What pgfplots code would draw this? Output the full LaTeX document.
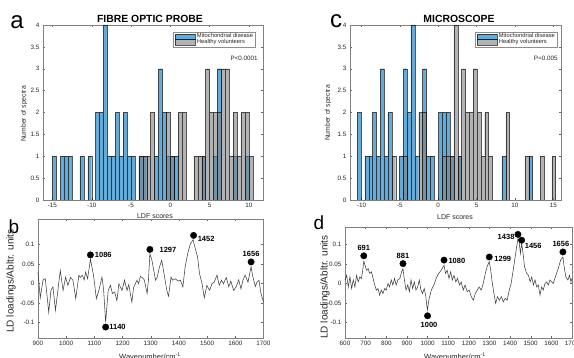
\documentclass[border=0pt]{standalone}
\usepackage{fontspec}
\setmainfont{Liberation Sans}
\usepackage{pgfplots}
\pgfplotsset{compat=1.18}
\definecolor{mblue}{rgb}{0,0.447,0.741}
\definecolor{mgray}{rgb}{0.5,0.5,0.5}
\definecolor{tk}{rgb}{0.15,0.15,0.15}
\newcommand{\tf}{\fontsize{6.3}{7}\selectfont}
\newcommand{\lgf}{\fontsize{5.8}{6.5}\selectfont}
\newcommand{\pf}{\fontsize{6.3}{7}\selectfont}
\newcommand{\lf}{\fontsize{7.5}{8}\selectfont\bfseries}
\pgfplotsset{
  base/.style={scale only axis, anchor=south west,
    axis line style={black!50, line width=0.4pt},
    tick style={black!60, line width=0.35pt}, major tick length=2.2pt,
    tick label style={font=\tf, text=tk},
    scaled x ticks=false, scaled y ticks=false},
  hist/.style={base, height=175pt, ymin=0, ymax=4,
    ytick={0,0.5,1,1.5,2,2.5,3,3.5,4}, yticklabels={0,0.5,1,1.5,2,2.5,3,3.5,4},
    legend cell align=left,
    legend style={draw=black!45, line width=0.3pt, fill=white, font=\lgf, text=tk,
      inner xsep=1.2pt, inner ysep=0.8pt, row sep=-1.2pt, column sep=1.2pt,
      nodes={inner sep=0.7pt}}},
  histbar/.style={ybar, bar width=0.5, bar shift=0pt, draw=black, draw opacity=0.65,
    line width=0.3pt, fill opacity=0.6,
    legend image code/.code={\draw[##1] (0pt,-2.8pt) rectangle (20pt,2.8pt);}},
  spec/.style={base, clip=false,
    ytick={-0.1,-0.05,0,0.05,0.1}, yticklabels={-0.1,-0.05,0,0.05,0.1}},
}
\begin{document}
\begin{tikzpicture}
\useasboundingbox (0,0) rectangle (574pt,358pt);
% ---------------- panel a
\begin{axis}[hist, at={(43pt,158pt)}, width=220pt, xmin=-16.2, xmax=11.8,
  xtick={-15,-10,-5,0,5,10}, xticklabels={-15,-10,-5,0,5,10},
  legend style={at={(0.964,0.96)}, anchor=north east}]
\addplot[histbar, fill=mblue] coordinates {
(-14.75,1) (-13.75,1) (-13.25,1) (-12.75,1) (-11.25,1) (-10.25,1) (-9.25,2) (-8.75,2)
(-8.25,4) (-7.75,1) (-7.25,1) (-6.75,2) (-6.25,1) (-5.75,2) (-5.25,1) (-4.75,1)
(-3.75,1) (-3.25,1) (-1.75,1) (-1.25,3) (-0.75,2) (-0.25,1) (0.25,1) (0.75,1)
(4.25,1) (5.75,1) (6.25,3) (8.25,1) (9.75,1)};
\addlegendentry{Mitochondrial disease}
\addplot[histbar, fill=mgray] coordinates {
(-3.75,1) (-3.25,1) (-2.75,1) (-2.25,2) (-0.25,2) (0.25,1) (1.25,2) (1.75,2)
(3.25,1) (3.75,1) (4.25,1) (4.75,3) (5.25,2) (5.75,2) (6.25,2) (6.75,3) (7.25,3)
(7.75,1) (8.25,2) (8.75,1) (9.25,2) (9.75,2) (10.25,1)};
\addlegendentry{Healthy volunteers}
\node[font=\pf, anchor=east, inner sep=0pt, text=tk] at (rel axis cs:0.977,0.81) {P<0.0001};
\end{axis}
% ---------------- panel c
\begin{axis}[hist, at={(350pt,158pt)}, width=211pt, xmin=-11.5, xmax=16,
  xtick={-10,-5,0,5,10,15}, xticklabels={-10,-5,0,5,10,15},
  legend style={at={(0.981,0.96)}, anchor=north east}]
\addplot[histbar, fill=mblue] coordinates {
(-10.3,2) (-9.3,1) (-8.8,1) (-8.3,2) (-7.8,1) (-7.3,3) (-6.8,1) (-6.3,2) (-4.8,1)
(-4.3,3) (-3.8,2) (-3.3,4) (-2.8,1) (-1.8,3) (-1.3,1) (-0.8,1) (0.3,2) (0.8,2)
(1.3,2) (1.8,1) (2.8,1) (8.55,1) (12.05,1)};
\addlegendentry{Mitochondrial disease}
\addplot[histbar, fill=mgray] coordinates {
(-5.8,1) (-4.3,1) (-2.3,2) (-1.8,2) (0.8,1) (1.3,1) (1.8,1) (2.3,4) (2.8,1) (3.3,3)
(3.8,2) (4.3,2) (4.8,3) (5.3,2) (5.8,1) (6.3,2) (6.8,1) (9.05,2) (11.55,1)
(13.55,1) (15.05,1)};
\addlegendentry{Healthy volunteers}
\node[font=\pf, anchor=east, inner sep=0pt, text=tk] at (rel axis cs:0.985,0.81) {P=0.005};
\end{axis}
% ---------------- panel b
\begin{axis}[spec, at={(38pt,20pt)}, width=225.5pt, height=119pt,
  xmin=900, xmax=1700, ymin=-0.14, ymax=0.165,
  xtick={900,1000,1100,1200,1300,1400,1500,1600,1700},
  xticklabels={900,1000,1100,1200,1300,1400,1500,1600,1700}]
\addplot[black!75, line width=0.55pt] coordinates {
(900,0.029) (908,-0.037) (918,0.009) (926,0.012) (938,-0.074) (946,-0.018) (953,-0.009)
(962,-0.069) (979,0.033) (989,-0.018) (998,0.016) (1006,-0.005) (1015,0.015) (1024,0.008)
(1034,-0.039) (1045,0.021) (1050,0.015) (1057,0.021) (1064,0.009) (1069,0.029) (1076,0.012)
(1086,0.062) (1097,0.021) (1107,-0.039) (1116,-0.018) (1127,0.016) (1133,-0.018) (1140,-0.100)
(1149,-0.018) (1157,-0.005) (1164,-0.026) (1172,-0.022) (1180,-0.044) (1187,-0.001)
(1198,-0.018) (1207,0.008) (1216,-0.018) (1222,-0.003) (1233,-0.048) (1239,-0.011)
(1251,0.008) (1257,-0.001) (1263,0.018) (1269,0.015) (1277,0.009) (1287,-0.026) (1292,0.010)
(1297,0.076) (1304,0.060) (1317,0.008) (1323,0.016) (1331,0.042) (1339,0.059) (1348,0.021)
(1357,-0.018) (1363,-0.033) (1372,0.016) (1378,0.008) (1387,0.012) (1396,0.006) (1405,0.008)
(1414,-0.009) (1422,0.042) (1431,0.076) (1440,0.100) (1450,0.112) (1458,0.089) (1466,0.068)
(1473,0.025) (1482,-0.001) (1490,-0.037) (1499,-0.005) (1509,-0.018) (1517,-0.001)
(1525,0.003) (1535,0.021) (1543,-0.005) (1551,0.008) (1558,-0.001) (1568,0.015)
(1577,-0.009) (1584,0.006) (1594,-0.018) (1603,-0.009) (1612,0.009) (1620,-0.014)
(1627,0.008) (1635,0.021) (1645,0.003) (1656,0.043) (1661,0.021) (1671,-0.008)
(1677,0.003) (1684,0.008) (1691,-0.026) (1700,-0.048)};
\addplot[only marks, mark=*, mark size=3.2pt, black] coordinates {
(1086,0.073) (1140,-0.112) (1297,0.087) (1452,0.123) (1656,0.055)};
\node[font=\lf, anchor=west, inner sep=0pt, xshift=4.3pt] at (axis cs:1086,0.073) {1086};
\node[font=\lf, anchor=west, inner sep=0pt, xshift=3.5pt] at (axis cs:1140,-0.112) {1140};
\node[font=\lf, anchor=west, inner sep=0pt, xshift=9.5pt] at (axis cs:1297,0.087) {1297};
\node[font=\lf, anchor=west, inner sep=0pt, xshift=4pt, yshift=-3.3pt] at (axis cs:1452,0.123) {1452};
\node[font=\lf, anchor=south, inner sep=0pt, yshift=5pt] at (axis cs:1656,0.055) {1656};
\end{axis}
% ---------------- panel d
\begin{axis}[spec, at={(345pt,20pt)}, width=227pt, height=111pt,
  xmin=600, xmax=1700, ymin=-0.14, ymax=0.145,
  xtick={600,700,800,900,1000,1100,1200,1300,1400,1500,1600,1700},
  xticklabels={600,700,800,900,1000,1100,1200,1300,1400,1500,1600,1700}]
\addplot[black!75, line width=0.55pt] coordinates {
(600,0.009) (608,0.021) (616,-0.009) (624,0.017) (632,-0.013) (640,0.009) (648,-0.009)
(656,0.021) (664,0.004) (672,0.017) (680,0.013) (686,0.034) (691,0.057) (697,0.047)
(704,0.034) (712,0.038) (720,0.026) (728,0.030) (736,0.013) (744,-0.004) (752,-0.017)
(760,-0.013) (768,-0.030) (776,-0.017) (784,-0.026) (792,-0.013) (800,-0.017) (808,0.000)
(816,-0.009) (824,0.009) (832,-0.004) (840,0.013) (848,-0.004) (856,0.009) (866,0.013)
(874,0.030) (881,0.038) (888,0.009) (896,-0.017) (904,-0.004) (912,-0.021) (920,0.009)
(928,-0.013) (936,0.004) (944,-0.017) (952,-0.009) (960,0.009) (968,-0.017) (976,-0.026)
(984,-0.013) (992,-0.034) (996,-0.056) (1000,-0.068) (1006,-0.043) (1018,-0.017)
(1031,-0.004) (1042,0.013) (1054,0.026) (1066,0.034) (1080,0.047) (1087,0.026)
(1095,0.034) (1104,0.013) (1112,0.030) (1120,0.009) (1128,0.021) (1137,0.004) (1145,0.013)
(1155,-0.004) (1163,0.004) (1173,-0.017) (1182,-0.004) (1192,-0.021) (1202,-0.017)
(1212,-0.034) (1222,-0.043) (1231,-0.026) (1241,-0.017) (1250,-0.009) (1260,-0.017)
(1270,0.000) (1280,0.026) (1290,0.045) (1299,0.056) (1306,0.034) (1314,0.000)
(1322,-0.026) (1330,-0.051) (1339,-0.034) (1348,-0.043) (1358,-0.034) (1367,-0.047)
(1377,-0.038) (1386,-0.043) (1396,-0.017) (1405,0.000) (1415,0.034) (1428,0.081)
(1438,0.115) (1443,0.111) (1450,0.077) (1456,0.103) (1463,0.077) (1470,0.043)
(1480,0.026) (1489,0.021) (1497,0.004) (1505,0.017) (1513,-0.004) (1521,0.009)
(1529,-0.009) (1537,-0.004) (1545,-0.030) (1553,-0.009) (1561,-0.017) (1569,0.000)
(1577,0.004) (1585,-0.004) (1593,0.009) (1601,0.004) (1609,0.000) (1617,0.013)
(1625,0.026) (1633,0.038) (1645,0.060) (1656,0.068) (1662,0.043) (1670,0.017)
(1680,0.009) (1688,0.021) (1695,0.004) (1700,0.013)};
\addplot[only marks, mark=*, mark size=3.2pt, black] coordinates {
(691,0.071) (881,0.051) (1000,-0.083) (1080,0.060) (1299,0.068) (1438,0.126) (1456,0.111) (1656,0.081)};
\node[font=\lf, anchor=south, inner sep=0pt, yshift=4.6pt] at (axis cs:691,0.071) {691};
\node[font=\lf, anchor=south, inner sep=0pt, yshift=5pt] at (axis cs:881,0.051) {881};
\node[font=\lf, anchor=north, inner sep=0pt, yshift=-6.5pt, xshift=1.5pt] at (axis cs:1000,-0.083) {1000};
\node[font=\lf, anchor=west, inner sep=0pt, xshift=4.3pt, yshift=-1pt] at (axis cs:1080,0.060) {1080};
\node[font=\lf, anchor=west, inner sep=0pt, xshift=5pt, yshift=-1.7pt] at (axis cs:1299,0.068) {1299};
\node[font=\lf, anchor=east, inner sep=0pt, xshift=-3.3pt, yshift=-3pt] at (axis cs:1438,0.126) {1438};
\node[font=\lf, anchor=west, inner sep=0pt, xshift=3pt, yshift=-6pt] at (axis cs:1456,0.111) {1456};
\node[font=\lf, anchor=south, inner sep=0pt, xshift=-2pt, yshift=5.5pt] at (axis cs:1656,0.081) {1656};
\end{axis}
% ---------------- texts
\node[font=\fontsize{24}{24}\selectfont] at (17pt,336pt) {a};
\node[font=\fontsize{24}{24}\selectfont] at (336pt,336.5pt) {c};
\node[font=\fontsize{19}{19}\selectfont] at (14pt,131pt) {b};
\node[font=\fontsize{19}{19}\selectfont] at (319pt,135pt) {d};
\node[font=\fontsize{10.4}{11}\selectfont\bfseries] at (150pt,339pt) {FIBRE OPTIC PROBE};
\node[font=\fontsize{10.4}{11}\selectfont\bfseries] at (459pt,339pt) {MICROSCOPE};
\node[font=\fontsize{6.8}{7}\selectfont, text=tk, rotate=90] at (24pt,244pt) {Number of spectra};
\node[font=\fontsize{6.8}{7}\selectfont, text=tk, rotate=90] at (328pt,245pt) {Number of spectra};
\node[font=\fontsize{7}{8}\selectfont, text=tk] at (155pt,142pt) {LDF scores};
\node[font=\fontsize{7}{8}\selectfont, text=tk] at (455pt,141pt) {LDF scores};
\node[font=\fontsize{10}{11}\selectfont, text=tk, rotate=90] at (11pt,77pt) {LD loadings/Abltr. units};
\node[font=\fontsize{10}{11}\selectfont, text=tk, rotate=90] at (325pt,71pt) {LD loadings/Abltr. units};
\node[font=\fontsize{7.5}{8}\selectfont, text=tk, anchor=north, inner sep=0pt] at (150pt,5pt) {Wavenumber/cm\textsuperscript{-1}};
\node[font=\fontsize{7.5}{8}\selectfont, text=tk, anchor=north, inner sep=0pt] at (455pt,5pt) {Wavenumber/cm\textsuperscript{-1}};
\end{tikzpicture}
\end{document}
